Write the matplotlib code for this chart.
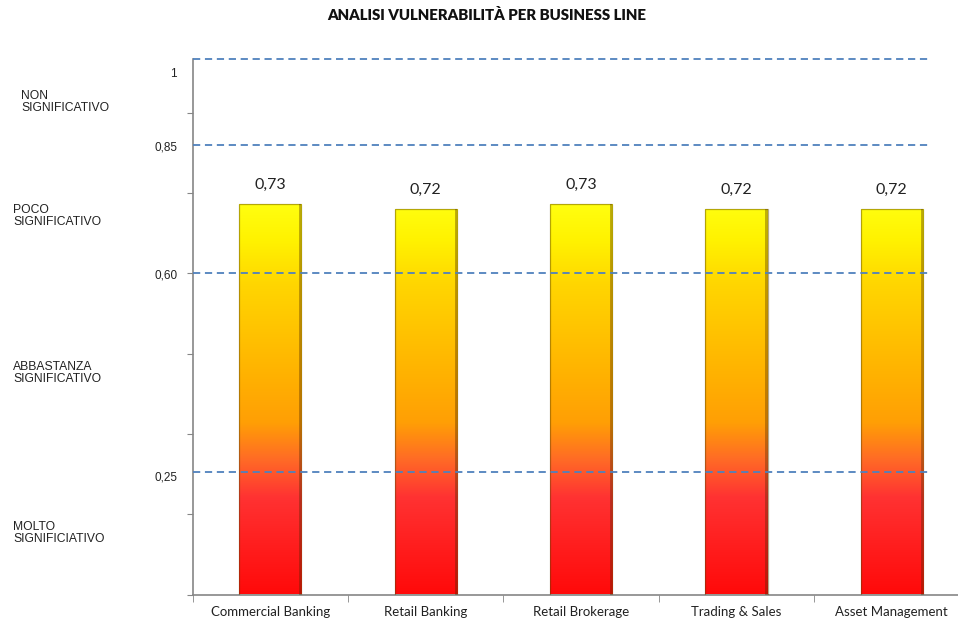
import numpy as np
import matplotlib.pyplot as plt
from matplotlib.colors import LinearSegmentedColormap
from matplotlib.patches import Rectangle

# Data
business_lines = ['Commercial Banking', 'Retail Banking', 'Retail Brokerage',
                  'Trading & Sales', 'Asset Management']
vulnerability = [0.73, 0.72, 0.73, 0.72, 0.72]
value_labels = ['0,73', '0,72', '0,73', '0,72', '0,72']

# threshold lines (as placed in the picture) and their labels
threshold_lines = [1.0, 0.84, 0.60, 0.229]
threshold_labels = ['1', '0,85', '0,60', '0,25']
threshold_label_y = [0.972, 0.835, 0.595, 0.219]

band_labels = ['NON\nSIGNIFICATIVO', 'POCO\nSIGNIFICATIVO',
               'ABBASTANZA\nSIGNIFICATIVO', 'MOLTO\nSIGNIFICIATIVO']
band_label_y = [0.92, 0.707, 0.414, 0.115]
band_label_x = [21, 13, 13, 13]

# gradient of the bars (value -> colour)
grad_stops = [(0.00, '#ff0a0a'), (0.18, '#ff3232'), (0.25, '#ff6a26'),
              (0.32, '#ff9f05'), (0.42, '#ffb400'), (0.58, '#ffd600'),
              (0.66, '#fff200'), (0.73, '#ffff10')]
cmap = LinearSegmentedColormap.from_list(
    'vuln', [(v / 0.73, c) for v, c in grad_stops])

W, H = 958, 620
fig = plt.figure(figsize=(W / 100, H / 100), dpi=100)
ax = fig.add_axes([192.7 / W, (H - 594.5) / H, 776.8 / W, 535.5 / H])
ax.set_xlim(-0.5, 4.5)
ax.set_ylim(0, 1.0)

x = np.arange(len(business_lines))
bar_w = 0.4
grad = np.linspace(0, 1, 256).reshape(-1, 1)
for xi, v, lab in zip(x, vulnerability, value_labels):
    x0 = xi - bar_w / 2
    im = ax.imshow(grad, cmap=cmap, origin='lower', aspect='auto',
                   extent=[x0, x0 + bar_w, 0, 0.73], zorder=2,
                   interpolation='bilinear')
    rect = Rectangle((x0, 0), bar_w, v, facecolor='none',
                     edgecolor=(0.35, 0.25, 0.0, 0.45), lw=0.9, zorder=3)
    ax.add_patch(rect)
    im.set_clip_path(rect)
    # slight shadow on the right side
    ax.add_patch(Rectangle((x0 + bar_w * 0.965, 0), bar_w * 0.035, v,
                           facecolor=(0.3, 0.15, 0.0, 0.35), edgecolor='none',
                           zorder=3))
    ax.text(xi, v + 0.022, lab, ha='center', va='bottom', fontsize=11.5,
            family='Lato', color='#222222')

# dashed threshold lines
for yl in threshold_lines:
    ax.plot([-0.5, 4.25], [yl, yl], ls=(0, (4, 2.6)), color='#4f81bd',
            lw=1.3, zorder=4, clip_on=False)

for s in ['top', 'right']:
    ax.spines[s].set_visible(False)
for s in ['left', 'bottom']:
    ax.spines[s].set_color('#868686')
    ax.spines[s].set_linewidth(1.2)

ax.set_yticks(np.arange(0, 0.91, 0.15))
ax.set_yticklabels([])
ax.tick_params(axis='y', length=4, color='#868686')
ax.set_xticks(x)
ax.set_xticklabels(business_lines, family='Lato', fontsize=9.5, color='#222222')
ax.tick_params(axis='x', length=0, pad=8)
ax.set_xticks(np.arange(-0.5, 4.6, 1.0), minor=True)
ax.tick_params(axis='x', which='minor', length=5, color='#868686')

for lab, yv in zip(threshold_labels, threshold_label_y):
    ax.text(-0.6, yv, lab, ha='right', va='center', fontsize=8.5,
            family='Liberation Sans', color='#222222')

for lab, yv, xp in zip(band_labels, band_label_y, band_label_x):
    fig.text(xp / W, (H - (594.5 - yv * 535.5)) / H, lab, ha='left',
             va='center', fontsize=8.7, family='Liberation Sans',
             color='#222222', linespacing=0.95)

fig.text(487 / W, 1 - 15 / H, 'ANALISI VULNERABILITÀ PER BUSINESS LINE',
         ha='center', va='center', fontsize=10.8, fontweight='heavy',
         family='Lato', color='#111111')

fig.savefig('out.png', dpi=100)
